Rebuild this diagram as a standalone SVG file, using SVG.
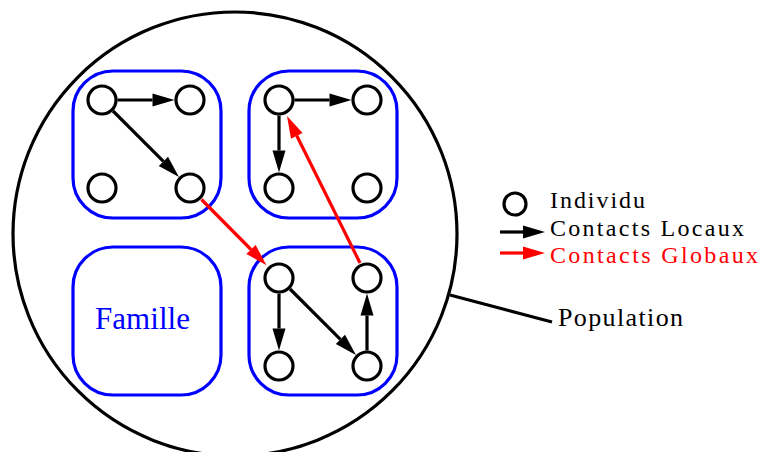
<svg xmlns="http://www.w3.org/2000/svg" width="761" height="452" viewBox="0 0 761 452">
  <style>
    .pop { fill: none; stroke: #000; stroke-width: 3.2; }
    .fam { fill: none; stroke: #0000ff; stroke-width: 3.2; }
    .ind { fill: #fff; stroke: #000; stroke-width: 3.2; }
    .loc { stroke: #000; stroke-width: 3.2; fill: none; }
    .glo { stroke: #ff0000; stroke-width: 3.2; fill: none; }
    .lbl { font-family: "Liberation Serif", "Times New Roman", serif; font-size: 24px; fill: #000; }
  </style>
  <defs>
    <marker id="head-black" markerUnits="userSpaceOnUse" markerWidth="23" markerHeight="14" refX="0" refY="6.5" orient="auto" overflow="visible">
      <path d="M0,0 L22,6.5 L0,13 Z" fill="#000"/>
    </marker>
    <marker id="head-red" markerUnits="userSpaceOnUse" markerWidth="23" markerHeight="14" refX="0" refY="6.5" orient="auto" overflow="visible">
      <path d="M0,0 L22,6.5 L0,13 Z" fill="#ff0000"/>
    </marker>
  </defs>

  <rect width="761" height="452" fill="#fff"/>

  <!-- population boundary -->
  <g id="population">
    <circle class="pop" cx="235" cy="234" r="222"/>
    <line class="pop" x1="450" y1="295" x2="552" y2="322"/>
    <text class="lbl" x="558" y="326" font-size="26" textLength="125" lengthAdjust="spacing" style="font-size:26px">Population</text>
  </g>

  <!-- families -->
  <g id="famille-1"><rect class="fam" x="73" y="71" width="148" height="147" rx="40"/></g>
  <g id="famille-2"><rect class="fam" x="249" y="71" width="148" height="147" rx="40"/></g>
  <g id="famille-3"><rect class="fam" x="249" y="247" width="148" height="148" rx="40"/></g>
  <g id="famille-4">
    <rect class="fam" x="73" y="247" width="148" height="148" rx="40"/>
    <text x="95" y="329" font-family="Liberation Serif, Times New Roman, serif" font-size="31" fill="#0000ff" textLength="95" lengthAdjust="spacing">Famille</text>
  </g>

  <!-- contacts -->
  <g id="contacts">
    <!-- famille 1 -->
    <line class="loc" x1="117.5" y1="100" x2="152.5" y2="100" marker-end="url(#head-black)"/>
    <line class="loc" x1="113" y1="111" x2="163.4" y2="161.4" marker-end="url(#head-black)"/>
    <!-- famille 2 -->
    <line class="loc" x1="294.5" y1="100" x2="329.5" y2="100" marker-end="url(#head-black)"/>
    <line class="loc" x1="279" y1="115.5" x2="279" y2="150.5" marker-end="url(#head-black)"/>
    <!-- famille 3 -->
    <line class="loc" x1="279" y1="293.5" x2="279" y2="328.5" marker-end="url(#head-black)"/>
    <line class="loc" x1="290" y1="289" x2="340.4" y2="339.4" marker-end="url(#head-black)"/>
    <line class="loc" x1="367" y1="350.5" x2="367" y2="315.5" marker-end="url(#head-black)"/>
    <!-- global contacts -->
    <line class="glo" x1="201.5" y1="199.5" x2="251" y2="249.5" marker-end="url(#head-red)"/>
    <line class="glo" x1="360" y1="263" x2="296.8" y2="135.8" marker-end="url(#head-red)"/>
  </g>

  <!-- individuals -->
  <g id="individus-famille-1">
    <circle class="ind" cx="102" cy="100" r="14"/>
    <circle class="ind" cx="190" cy="100" r="14"/>
    <circle class="ind" cx="102" cy="188" r="14"/>
    <circle class="ind" cx="190" cy="188" r="14"/>
  </g>
  <g id="individus-famille-2">
    <circle class="ind" cx="279" cy="100" r="14"/>
    <circle class="ind" cx="367" cy="100" r="14"/>
    <circle class="ind" cx="279" cy="188" r="14"/>
    <circle class="ind" cx="367" cy="188" r="14"/>
  </g>
  <g id="individus-famille-3">
    <circle class="ind" cx="279" cy="278" r="14"/>
    <circle class="ind" cx="367" cy="278" r="14"/>
    <circle class="ind" cx="279" cy="366" r="14"/>
    <circle class="ind" cx="367" cy="366" r="14"/>
  </g>

  <!-- legend -->
  <g id="legende">
    <circle class="ind" cx="515" cy="204" r="11"/>
    <text class="lbl" x="550" y="208" textLength="95" lengthAdjust="spacing">Individu</text>
    <line class="loc" x1="500" y1="232" x2="523" y2="232" marker-end="url(#head-black)"/>
    <text class="lbl" x="550" y="236" textLength="194" lengthAdjust="spacing">Contacts Locaux</text>
    <line class="glo" x1="500" y1="253" x2="523" y2="253" marker-end="url(#head-red)"/>
    <text class="lbl" x="550" y="263" textLength="208" lengthAdjust="spacing" style="fill:#ff0000">Contacts Globaux</text>
  </g>
</svg>
